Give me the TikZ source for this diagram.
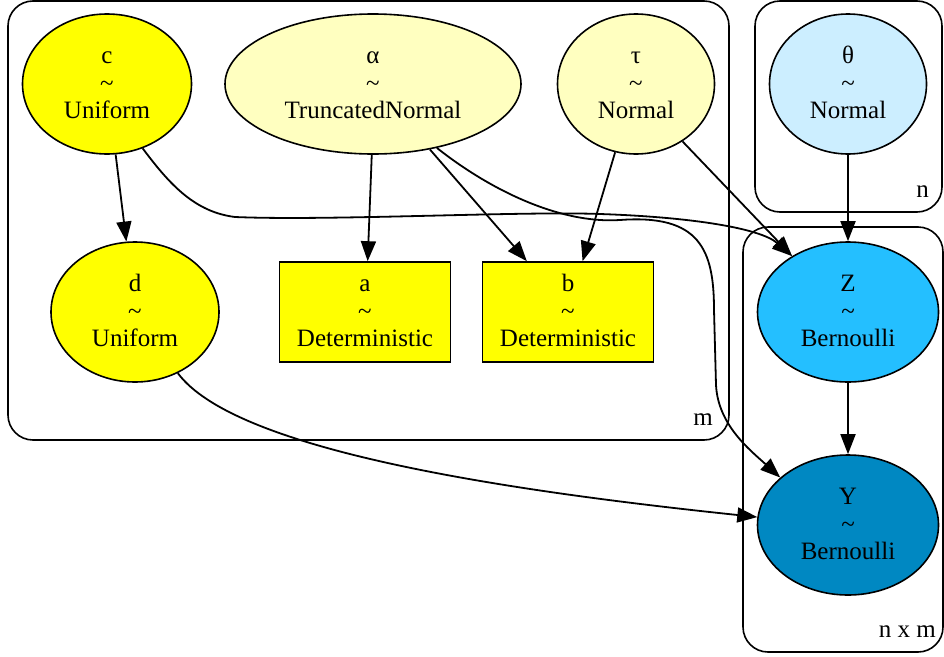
\documentclass[tikz,border=0pt]{standalone}
\usepackage{fontspec}
\setmainfont{Liberation Serif}
\usetikzlibrary{shapes.geometric,arrows.meta}
\definecolor{cyel}{HTML}{FFFF00}
\definecolor{cpale}{HTML}{FFFFC0}
\definecolor{clblue}{HTML}{CCEEFF}
\definecolor{cmblue}{HTML}{24BFFF}
\definecolor{cdblue}{HTML}{0088C2}
\newcommand\rvtext[2]{\rule{0pt}{17pt}#1\\\textasciitilde\\#2\rule[-3pt]{0pt}{3pt}}
\begin{document}
\begin{tikzpicture}[x=1pt,y=-1pt,
  every node/.style={font=\fontsize{25}{27.7}\selectfont, align=center, inner sep=0pt},
  rv/.style={ellipse, draw, line width=1.6pt, fill=#1},
  detbox/.style={rectangle, draw, line width=1.6pt, fill=cyel, minimum width=171pt, minimum height=100pt},
  plate/.style={draw, line width=1.6pt, rounded corners=25pt},
  conn/.style={line width=1.8pt, -{Triangle[length=20pt,width=15pt]}},
  platelabel/.style={anchor=base east}]
\useasboundingbox (0,0) rectangle (944,656);
% plates
\draw[plate] (8,1) rectangle (729,440);
\draw[plate] (755,1) rectangle (942,212);
\draw[plate] (743,227) rectangle (943,652);
\node[platelabel] (lm) at (713,425) {m};
\node[platelabel] (ln) at (929,197) {n};
\node[platelabel] (lnm) at (936,637) {n x m};
% nodes
\node[rv=cyel, minimum width=169pt, minimum height=140pt] (c) at (107,84) {\rvtext{c}{Uniform}};
\node[rv=cpale, minimum width=296pt, minimum height=140pt] (alpha) at (373,84) {\rvtext{α}{TruncatedNormal}};
\node[rv=cpale, minimum width=157pt, minimum height=140pt] (tau) at (636,84) {\rvtext{τ}{Normal}};
\node[rv=clblue, minimum width=157pt, minimum height=140pt] (theta) at (848,84) {\rvtext{θ}{Normal}};
\node[rv=cyel, minimum width=168pt, minimum height=140pt] (d) at (135,312) {\rvtext{d}{Uniform}};
\node[detbox] (a) at (365,312) {\rvtext{a}{Deterministic}};
\node[detbox] (b) at (568,312) {\rvtext{b}{Deterministic}};
\node[rv=cmblue, minimum width=181pt, minimum height=140pt] (Z) at (848,312) {\rvtext{Z}{Bernoulli}};
\node[rv=cdblue, minimum width=181pt, minimum height=140pt] (Y) at (848,525) {\rvtext{Y}{Bernoulli}};
% edges
\draw[conn] (c.-83) -- (d.97);
\draw[conn] (c.-61) .. controls (170,185) and (195,212) .. (235,217)
  .. controls (330,221) and (520,211) .. (600,214)
  .. controls (690,217) and (760,228) .. (Z.135);
\draw[conn] (alpha.-91) -- (a.87);
\draw[conn] (alpha.-49) -- (b.129);
\draw[conn] (alpha.-45) .. controls (490,190) and (560,224) .. (620,220)
  .. controls (700,214) and (714,250) .. (714,310)
  -- (716,385) .. controls (718,425) and (750,450) .. (Y.145);
\draw[conn] (tau.-107) -- (b.74);
\draw[conn] (tau.-51) -- (Z.135);
\draw[conn] (theta.south) -- (Z.north);
\draw[conn] (Z.south) -- (Y.north);
\draw[conn] (d.-55) .. controls (235,450) and (500,490) .. (Y.175);
\end{tikzpicture}
\end{document}
